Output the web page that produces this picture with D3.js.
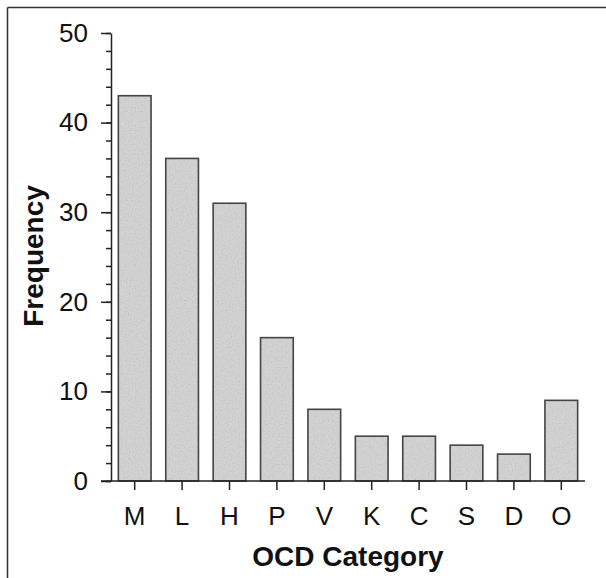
<!DOCTYPE html>
<html>
<head>
<meta charset="utf-8">
<script src="https://cdn.jsdelivr.net/npm/d3@7"></script>
<style>
  body { margin: 0; background: #fff; }
  svg { display: block; font-family: "Liberation Sans", Arial, sans-serif; }
</style>
</head>
<body>
<div id="chart"></div>
<script>
// data
var categories = ["M", "L", "H", "P", "V", "K", "C", "S", "D", "O"];
var frequency = [43, 36, 31, 16, 8, 5, 5, 4, 3, 9];
var yTicks = [0, 10, 20, 30, 40, 50];

var svgWidth = 606;
var svgHeight = 578;
var margin = { top: 33, right: 21, bottom: 97, left: 111 };
var width = svgWidth - margin.left - margin.right;
var height = svgHeight - margin.top - margin.bottom;

var svg = d3.select("#chart")
    .append("svg")
    .attr("width", svgWidth)
    .attr("height", svgHeight);

// frame: only top and left edges show in the scan
svg.append("line").attr("x1", 7.5).attr("x2", svgWidth).attr("y1", 7.5).attr("y2", 7.5)
    .attr("stroke", "#333").attr("stroke-width", 1.5);
svg.append("line").attr("x1", 7.5).attr("x2", 7.5).attr("y1", 7.5).attr("y2", svgHeight)
    .attr("stroke", "#333").attr("stroke-width", 1.5);

// stippled grey fill for the bars
var defs = svg.append("defs");
var filt = defs.append("filter").attr("id", "grain")
    .attr("x", 0).attr("y", 0).attr("width", 1).attr("height", 1);
filt.append("feTurbulence").attr("type", "fractalNoise")
    .attr("baseFrequency", 0.7).attr("numOctaves", 2).attr("seed", 3).attr("result", "noise");
filt.append("feColorMatrix").attr("in", "noise").attr("type", "matrix")
    .attr("values", "0 0 0 0 0.45  0 0 0 0 0.45  0 0 0 0 0.45  1.0 0.5 0 0 -0.7")
    .attr("result", "dots");
filt.append("feComposite").attr("in", "dots").attr("in2", "SourceGraphic").attr("operator", "atop");

var chartGroup = svg.append("g")
    .attr("transform", `translate(${margin.left}, ${margin.top})`);

var xScale = d3.scaleBand()
    .domain(categories)
    .range([0, width])
    .paddingInner(0.31)
    .paddingOuter(0.155);

var yScale = d3.scaleLinear()
    .domain([0, 50])
    .range([height, 0]);

// bars
chartGroup.selectAll("rect.bar")
    .data(categories)
    .enter()
    .append("rect")
    .attr("class", "bar")
    .attr("x", d => xScale(d))
    .attr("y", (d, i) => yScale(frequency[i]))
    .attr("width", xScale.bandwidth())
    .attr("height", (d, i) => height - yScale(frequency[i]))
    .attr("fill", "#d2d2d2")
    .attr("filter", "url(#grain)");

chartGroup.selectAll("rect.edge")
    .data(categories)
    .enter()
    .append("rect")
    .attr("class", "edge")
    .attr("x", d => xScale(d))
    .attr("y", (d, i) => yScale(frequency[i]))
    .attr("width", xScale.bandwidth())
    .attr("height", (d, i) => height - yScale(frequency[i]))
    .attr("fill", "none")
    .attr("stroke", "#444")
    .attr("stroke-width", 1.6);

// y axis: major ticks with labels, minor ticks every 2
var minorAxis = d3.axisLeft(yScale)
    .tickValues(d3.range(0, 51, 2))
    .tickSize(5)
    .tickFormat("");
var gMinor = chartGroup.append("g").call(minorAxis);
gMinor.select(".domain").remove();

var leftAxis = d3.axisLeft(yScale)
    .tickValues(yTicks)
    .tickSize(10)
    .tickSizeOuter(0)
    .tickPadding(13);
var gy = chartGroup.append("g").call(leftAxis);
gy.selectAll("text").attr("font-size", 26).attr("fill", "#111")
    .attr("font-family", "Liberation Sans, Arial, sans-serif");

chartGroup.selectAll(".tick line").attr("stroke", "#222").attr("stroke-width", 1.5);
chartGroup.selectAll(".domain").attr("stroke", "#222").attr("stroke-width", 1.5);

// x axis
var bottomAxis = d3.axisBottom(xScale)
    .tickSize(9)
    .tickSizeOuter(0)
    .tickPadding(17);
var gx = chartGroup.append("g")
    .attr("transform", `translate(0, ${height})`)
    .call(bottomAxis);
gx.select(".domain").attr("d", `M-10,0H${width}`)
    .attr("stroke", "#222").attr("stroke-width", 1.6);
gx.selectAll(".tick line").attr("stroke", "#222").attr("stroke-width", 1.5);
gx.selectAll("text").attr("font-size", 26).attr("fill", "#111")
    .attr("font-family", "Liberation Sans, Arial, sans-serif");

// axis titles
svg.append("text")
    .attr("transform", "translate(43, 256) rotate(-90)")
    .attr("text-anchor", "middle")
    .attr("font-size", 28)
    .attr("font-weight", "bold")
    .attr("fill", "#111")
    .text("Frequency");

svg.append("text")
    .attr("x", 348)
    .attr("y", 566)
    .attr("text-anchor", "middle")
    .attr("font-size", 28)
    .attr("font-weight", "bold")
    .attr("fill", "#111")
    .text("OCD Category");
</script>
</body>
</html>
